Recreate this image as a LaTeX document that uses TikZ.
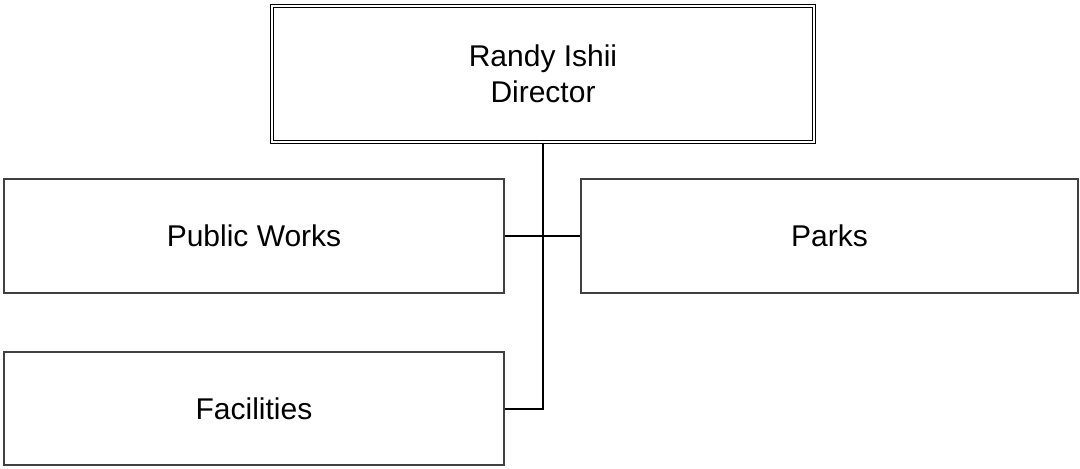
\documentclass[tikz,border=0pt]{standalone}
\usepackage{fontspec}
\setmainfont{Liberation Sans}
\usetikzlibrary{positioning}

\begin{document}
\begin{tikzpicture}[
  x = 0.5pt, y = -0.5pt,
  every node/.style = {font=\fontsize{15}{18}\selectfont},
  box/.style    = {rectangle, draw=black!75, line width=0.6pt, align=center,
                   inner sep=0pt, minimum width=250pt, minimum height=57pt},
  topbox/.style = {box, draw=black, double, double distance=1pt,
                   line width=0.5pt, minimum width=271pt, minimum height=68pt},
  conn/.style   = {draw=black, line width=1pt}
]
\useasboundingbox (0,0) rectangle (1080,468);

% ---- director -----------------------------------------------------------
\node[topbox, at={(543,74)}] (dir) {Randy Ishii\\Director};

% ---- divisions ----------------------------------------------------------
\node[box, at={(254,236)}]                      (pw)    {Public Works};
\node[box, minimum width=248.5pt, at={(829.5,236)}] (parks) {Parks};
\node[box, minimum height=56.5pt, at={(254,408.5)}] (fac)   {Facilities};

% ---- reporting lines ----------------------------------------------------
\draw[conn] (pw.east) -- (parks.west);
\draw[conn] (dir.south) |- (fac.east);

\end{tikzpicture}
\end{document}
